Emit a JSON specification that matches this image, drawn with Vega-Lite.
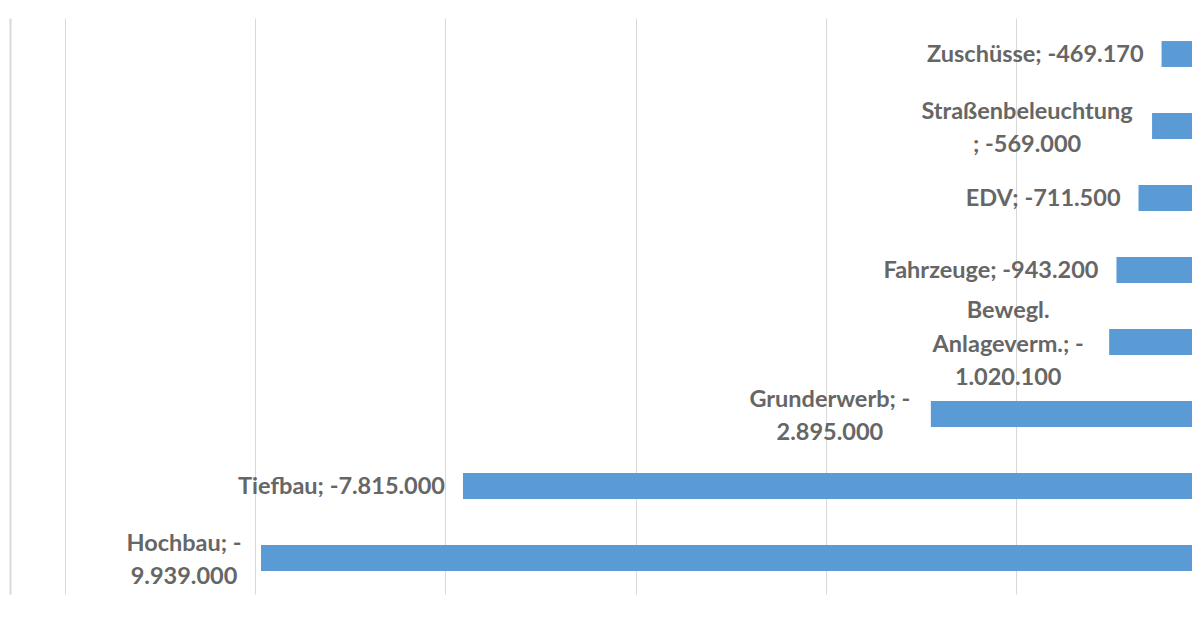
{
  "$schema": "https://vega.github.io/schema/vega-lite/v6.json",
  "width": 1127,
  "height": 576,
  "autosize": {"type": "none"},
  "padding": {"left": 65, "top": 18, "right": 0, "bottom": 26},
  "background": "white",
  "config": {"view": {"stroke": null}, "font": "Lato"},
  "data": {
    "values": [
      {"category": "Zuschüsse", "value": -469170, "label": ["Zuschüsse; -469.170"]},
      {"category": "Straßenbeleuchtung", "value": -569000, "label": ["Straßenbeleuchtung", "; -569.000"]},
      {"category": "EDV", "value": -711500, "label": ["EDV; -711.500"]},
      {"category": "Fahrzeuge", "value": -943200, "label": ["Fahrzeuge; -943.200"]},
      {"category": "Bewegl. Anlageverm.", "value": -1020100, "label": ["Bewegl.", "Anlageverm.; -", "1.020.100"]},
      {"category": "Grunderwerb", "value": -2895000, "label": ["Grunderwerb; -", "2.895.000"]},
      {"category": "Tiefbau", "value": -7815000, "label": ["Tiefbau; -7.815.000"]},
      {"category": "Hochbau", "value": -9939000, "label": ["Hochbau; -", "9.939.000"]}
    ]
  },
  "encoding": {
    "y": {
      "field": "category",
      "type": "nominal",
      "sort": ["Zuschüsse", "Straßenbeleuchtung", "EDV", "Fahrzeuge", "Bewegl. Anlageverm.", "Grunderwerb", "Tiefbau", "Hochbau"],
      "scale": {"paddingInner": 0.64, "paddingOuter": 0.32},
      "axis": {"labels": false, "ticks": false, "title": null, "grid": false, "domainColor": "#d9d9d9", "domainWidth": 2, "offset": 55}
    }
  },
  "layer": [
    {
      "mark": {"type": "bar", "color": "#5b9bd5"},
      "encoding": {
        "x": {
          "field": "value",
          "type": "quantitative",
          "scale": {"domain": [-12000000, -149000], "clamp": true, "nice": false, "zero": false},
          "axis": {"values": [-12000000, -10000000, -8000000, -6000000, -4000000, -2000000], "labels": false, "ticks": false, "domain": false, "title": null, "grid": true, "gridColor": "#d9d9d9", "gridWidth": 1}
        },
        "x2": {"datum": 0}
      }
    },
    {
      "transform": [{"filter": "length(datum.label) == 1"}],
      "mark": {"type": "text", "align": "right", "baseline": "middle", "dx": -18, "dy": 1, "fontSize": 23.5, "fontWeight": "bold", "color": "#666666"},
      "encoding": {
        "x": {"field": "value", "type": "quantitative"},
        "text": {"field": "label", "type": "nominal"}
      }
    },
    {
      "transform": [
        {"filter": "length(datum.label) == 2"},
        {"calculate": "datum.value - (17 + 6 * max(length(datum.label[0]), length(datum.label[1]))) * 1000000 / 95.1", "as": "labelPos"}
      ],
      "mark": {"type": "text", "align": "center", "baseline": "middle", "lineHeight": 33.5, "dy": -14.5, "fontSize": 23.5, "fontWeight": "bold", "color": "#666666"},
      "encoding": {
        "x": {"field": "labelPos", "type": "quantitative"},
        "text": {"field": "label", "type": "nominal"}
      }
    },
    {
      "transform": [
        {"filter": "length(datum.label) == 3"},
        {"calculate": "datum.value - (17 + 6 * max(length(datum.label[0]), length(datum.label[1]), length(datum.label[2]))) * 1000000 / 95.1", "as": "labelPos"}
      ],
      "mark": {"type": "text", "align": "center", "baseline": "middle", "lineHeight": 33.5, "dy": -31, "fontSize": 23.5, "fontWeight": "bold", "color": "#666666"},
      "encoding": {
        "x": {"field": "labelPos", "type": "quantitative"},
        "text": {"field": "label", "type": "nominal"}
      }
    }
  ]
}
